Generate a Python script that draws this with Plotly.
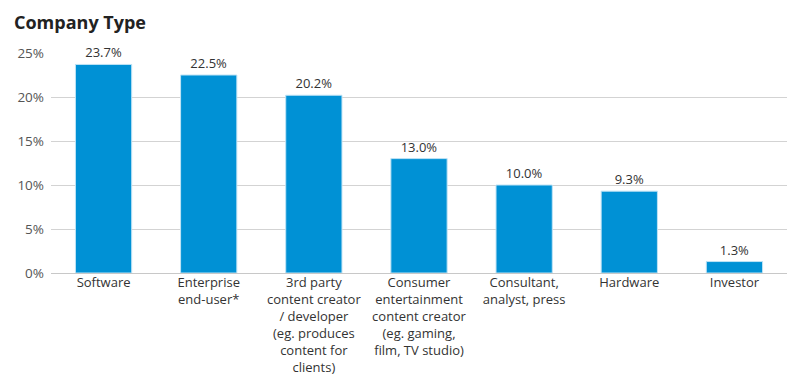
import plotly.graph_objects as go

categories = [
    "Software",
    "Enterprise<br>end-user*",
    "3rd party<br>content creator<br>/ developer<br>(eg. produces<br>content for<br>clients)",
    "Consumer<br>entertainment<br>content creator<br>(eg. gaming,<br>film, TV studio)",
    "Consultant,<br>analyst, press",
    "Hardware",
    "Investor",
]
values = [23.7, 22.5, 20.2, 13.0, 10.0, 9.3, 1.3]
value_labels = ["23.7%", "22.5%", "20.2%", "13.0%", "10.0%", "9.3%", "1.3%"]
y_ticks = [0, 5, 10, 15, 20, 25]
y_tick_labels = ["0%", "5%", "10%", "15%", "20%", "25%"]

FONT = "Open Sans"

fig = go.Figure(
    go.Bar(
        x=categories,
        y=values,
        text=value_labels,
        textposition="outside",
        cliponaxis=False,
        textfont=dict(family=FONT, size=13, color="#333333"),
        marker=dict(color="#0091D5", line=dict(color="#BFE3F5", width=1)),
        width=0.535,
    )
)

fig.update_layout(
    width=800,
    height=379,
    paper_bgcolor="white",
    plot_bgcolor="white",
    showlegend=False,
    margin=dict(l=51, r=13, t=53, b=106),
    font=dict(family=FONT, size=13, color="#333333"),
    annotations=[
        dict(
            text="<b>Company Type</b>",
            xref="paper",
            yref="paper",
            x=(12 - 51) / 736,
            y=(273 - 22) / 220,
            xanchor="left",
            yanchor="middle",
            showarrow=False,
            font=dict(family=FONT, size=18, color="#222222"),
        )
    ],
)

fig.update_xaxes(
    automargin=False,
    showgrid=False,
    showline=False,
    ticks="",
    tickfont=dict(family=FONT, size=13, color="#333333"),
)
fig.update_yaxes(
    automargin=False,
    range=[0, 25],
    tickvals=y_ticks,
    ticktext=y_tick_labels,
    showgrid=True,
    gridcolor="#D3D3D3",
    gridwidth=1,
    zeroline=True,
    zerolinecolor="#C8C8C8",
    zerolinewidth=1,
    ticks="",
    ticklabelstandoff=6,
    tickfont=dict(family=FONT, size=13.5, color="#555555"),
)

fig.write_html(
    "out.html",
    config={"displayModeBar": False},
    post_script="document.body.style.margin='0';document.body.style.overflow='hidden';",
)
